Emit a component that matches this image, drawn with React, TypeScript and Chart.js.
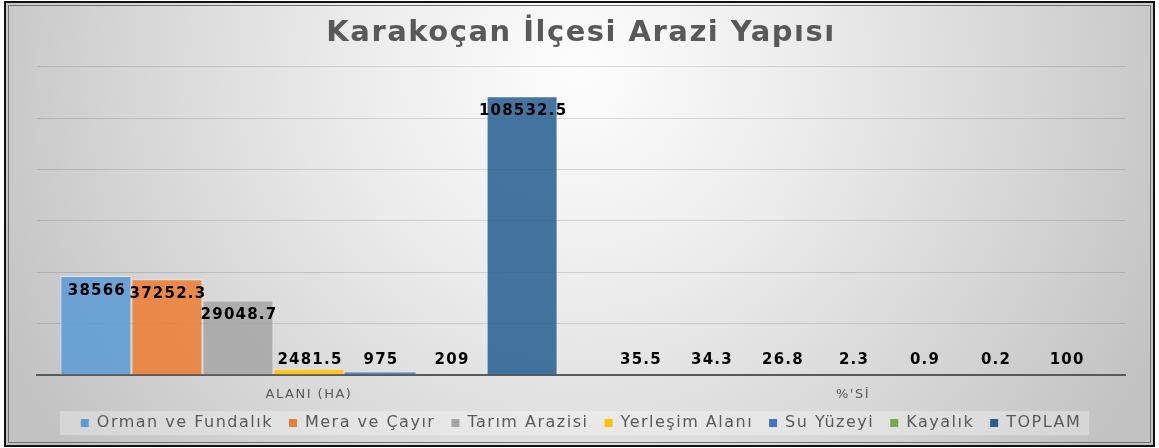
import { useEffect, useRef } from "react";
import { Chart, registerables } from "chart.js";

Chart.register(...registerables);

const categories = ["ALANI (HA)", "%'Sİ"];
const seriesNames = [
  "Orman ve Fundalık",
  "Mera ve Çayır",
  "Tarım Arazisi",
  "Yerleşim Alanı",
  "Su Yüzeyi",
  "Kayalık",
  "TOPLAM",
];
const ormanValues = [38566, 35.5];
const meraValues = [37252.3, 34.3];
const tarimValues = [29048.7, 26.8];
const yerlesimValues = [2481.5, 2.3];
const suValues = [975, 0.9];
const kayalikValues = [209, 0.2];
const toplamValues = [108532.5, 100];
const seriesValues = [
  ormanValues,
  meraValues,
  tarimValues,
  yerlesimValues,
  suValues,
  kayalikValues,
  toplamValues,
];
const seriesColors = ["#5B9BD5", "#ED7D31", "#A5A5A5", "#FFC000", "#4472C4", "#70AD47", "#255E91"];
const yMax = 120000;
const yStep = 20000;

function hexA(hex: string, a: number) {
  const n = parseInt(hex.slice(1), 16);
  return `rgba(${(n >> 16) & 255},${(n >> 8) & 255},${n & 255},${a})`;
}

const FONT = '"DejaVu Sans", sans-serif';

const spacingPlugin = {
  id: "spacing",
  beforeLayout(chart: any) {
    chart.ctx.letterSpacing = "1.5px";
  },
  beforeDraw(chart: any) {
    chart.ctx.letterSpacing = "1.5px";
  },
};

const backgroundPlugin = {
  id: "bgFrame",
  beforeDraw(chart: any) {
    const ctx = chart.ctx as CanvasRenderingContext2D;
    const W = chart.width;
    const H = chart.height;
    ctx.save();
    ctx.fillStyle = "#ffffff";
    ctx.fillRect(0, 0, W, H);
    const g = ctx.createRadialGradient(580, 70, 0, 580, 70, 640);
    g.addColorStop(0, "#fdfdfd");
    g.addColorStop(0.35, "#ececec");
    g.addColorStop(0.75, "#d3d3d3");
    g.addColorStop(1, "#c2c2c2");
    ctx.fillStyle = g;
    ctx.fillRect(6, 3, W - 12, H - 6);
    // legend background
    const lg = chart.legend;
    if (lg && lg.legendHitBoxes && lg.legendHitBoxes.length) {
      const hb = lg.legendHitBoxes;
      const left = hb[0].left - 21;
      const last = hb[hb.length - 1];
      const right = last.left + last.width + 8;
      const cy = hb[0].top + hb[0].height / 2;
      ctx.fillStyle = "rgba(255,255,255,0.3)";
      ctx.fillRect(left, cy - 12, right - left, 24);
    }
    // frame
    ctx.strokeStyle = "#111111";
    ctx.lineWidth = 2;
    ctx.strokeRect(5, 2, W - 10, H - 4);
    ctx.strokeStyle = "#707070";
    ctx.lineWidth = 1;
    ctx.strokeRect(8.5, 5.5, W - 17, H - 11);
    ctx.restore();
  },
};

const labelPlugin = {
  id: "barLabels",
  afterDraw(chart: any) {
    const ctx = chart.ctx as any;
    ctx.save();
    ctx.letterSpacing = "1.2px";
    ctx.font = `bold 15px ${FONT}`;
    ctx.fillStyle = "#000000";
    ctx.textAlign = "center";
    ctx.textBaseline = "middle";
    chart.data.datasets.forEach((ds: any, i: number) => {
      const meta = chart.getDatasetMeta(i);
      meta.data.forEach((el: any, j: number) => {
        const v = ds.data[j];
        const cy = Math.min(el.y + 15, el.base - 14);
        ctx.fillText(String(v), el.x + 1, cy);
      });
    });
    ctx.restore();
  },
};

export default function App() {
  const ref = useRef<HTMLCanvasElement | null>(null);
  useEffect(() => {
    document.body.style.margin = "0";
    const canvas = ref.current!;
    const chart = new Chart(canvas, {
      type: "bar",
      data: {
        labels: categories,
        datasets: seriesNames.map((name, i) => ({
          label: name,
          data: seriesValues[i],
          // sub-pixel bars are not visible in the original
          backgroundColor: (c: any) =>
            c.raw !== undefined && c.raw < 300 ? "rgba(0,0,0,0)" : hexA(seriesColors[i], 0.85),
          borderColor: "rgba(255,255,255,0.45)",
          borderWidth: (c: any) => (c.raw !== undefined && c.raw < 1000 ? 0 : 1),
          categoryPercentage: 0.914,
          barPercentage: 1,
        })),
      },
      options: {
        responsive: false,
        animation: false,
        layout: { padding: { left: 37, right: 34, top: 0, bottom: 7 } },
        plugins: {
          title: {
            display: true,
            text: "Karakoçan İlçesi Arazi Yapısı",
            color: "#595959",
            font: { family: FONT, size: 29, weight: "bold" },
            padding: { top: 16, bottom: 16 },
          },
          legend: {
            position: "bottom",
            labels: {
              color: "#595959",
              font: { family: FONT, size: 16 },
              boxWidth: 8,
              boxHeight: 8,
              padding: 16,
              generateLabels: (chart: any) =>
                chart.data.datasets.map((ds: any, i: number) => ({
                  text: ds.label,
                  fillStyle: seriesColors[i],
                  strokeStyle: "rgba(0,0,0,0)",
                  lineWidth: 0,
                  hidden: false,
                  datasetIndex: i,
                  fontColor: "#595959",
                })),
            },
          },
          tooltip: { enabled: false },
        },
        scales: {
          x: {
            z: 1,
            grid: { display: true, color: "rgba(0,0,0,0)", drawTicks: false },
            border: { display: true, color: "#595959", width: 2 },
            ticks: {
              color: "#595959",
              font: { family: FONT, size: 13 },
              padding: 12,
            },
            afterFit: (scale: any) => {
              scale.height = 24;
            },
          },
          y: {
            min: 0,
            max: yMax,
            ticks: { display: false, stepSize: yStep },
            grid: { color: "rgba(0,0,0,0.13)", drawTicks: false },
            border: { display: false },
          },
        },
      },
      plugins: [spacingPlugin, backgroundPlugin, labelPlugin],
    });
    return () => chart.destroy();
  }, []);
  return (
    <div style={{ position: "absolute", left: 0, top: 0, width: 1159, height: 448 }}>
      <canvas ref={ref} width={1159} height={448} style={{ display: "block" }} />
    </div>
  );
}
